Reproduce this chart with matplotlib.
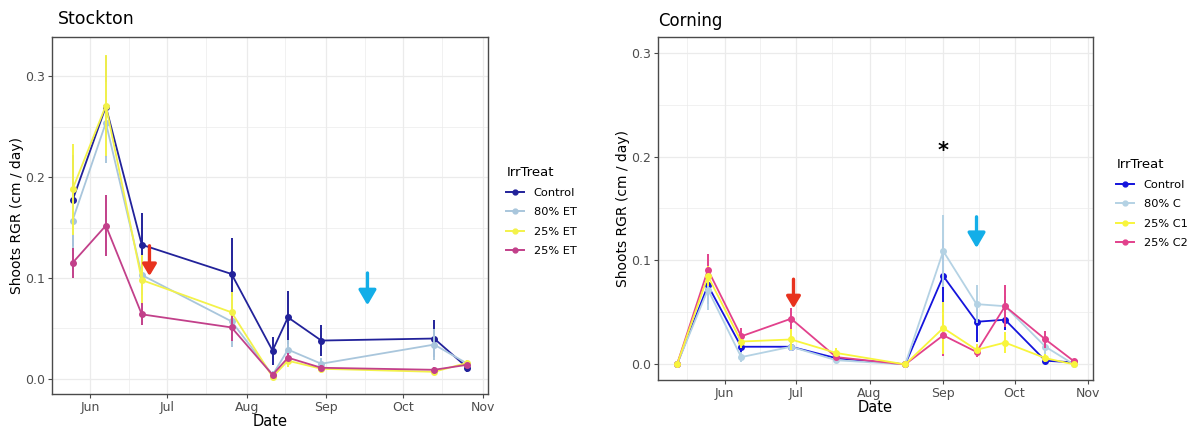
"""
Shoot RGR over the season at two sites (Stockton, Corning) by irrigation treatment.
"""

import matplotlib.pyplot as plt
import matplotlib.dates as mdates
import pandas as pd
from matplotlib.lines import Line2D

W, H = 1194, 429

# ---- Stockton -------------------------------------------------------------
stk_dates = pd.to_datetime([
    "2019-05-25", "2019-06-07", "2019-06-21", "2019-07-26", "2019-08-11",
    "2019-08-17", "2019-08-30", "2019-10-13", "2019-10-26",
])
stk_labels = ["Control", "80% ET", "25% ET", "25% ET"]
stk_control = [0.177, 0.270, 0.133, 0.104, 0.028, 0.061, 0.038, 0.040, 0.011]
stk_80 = [0.157, 0.254, 0.103, 0.057, 0.004, 0.029, 0.015, 0.034, 0.015]
stk_25a = [0.188, 0.271, 0.098, 0.066, 0.002, 0.018, 0.010, 0.007, 0.016]
stk_25b = [0.115, 0.152, 0.064, 0.051, 0.004, 0.021, 0.011, 0.009, 0.014]
stk_control_se = [0.045, 0.050, 0.031, 0.036, 0.014, 0.026, 0.015, 0.018, 0.004]
stk_80_se = [0.030, 0.040, 0.020, 0.025, 0.004, 0.010, 0.006, 0.015, 0.004]
stk_25a_se = [0.045, 0.050, 0.025, 0.020, 0.003, 0.006, 0.004, 0.003, 0.003]
stk_25b_se = [0.015, 0.030, 0.011, 0.013, 0.003, 0.005, 0.003, 0.003, 0.003]

# ---- Corning --------------------------------------------------------------
cor_dates = pd.to_datetime([
    "2019-05-12", "2019-05-25", "2019-06-08", "2019-06-29", "2019-07-18",
    "2019-08-16", "2019-09-01", "2019-09-15", "2019-09-27", "2019-10-14",
    "2019-10-26",
])
cor_labels = ["Control", "80% C", "25% C1", "25% C2"]
cor_control = [0.0, 0.076, 0.017, 0.017, 0.006, 0.0, 0.085, 0.041, 0.043, 0.0035, 0.002]
cor_80 = [0.0, 0.072, 0.007, 0.017, 0.004, 0.0, 0.109, 0.058, 0.056, 0.017, 0.0]
cor_25a = [0.0, 0.085, 0.022, 0.024, 0.011, 0.0, 0.035, 0.014, 0.021, 0.006, 0.0]
cor_25b = [0.0, 0.091, 0.027, 0.044, 0.007, 0.0, 0.028, 0.012, 0.056, 0.024, 0.003]
cor_control_se = [0.0, 0.018, 0.006, 0.004, 0.002, 0.0, 0.035, 0.019, 0.010, 0.002, 0.001]
cor_80_se = [0.0, 0.020, 0.005, 0.004, 0.002, 0.0, 0.035, 0.018, 0.010, 0.010, 0.001]
cor_25a_se = [0.0, 0.010, 0.006, 0.010, 0.005, 0.0, 0.025, 0.006, 0.010, 0.004, 0.001]
cor_25b_se = [0.0, 0.015, 0.008, 0.010, 0.003, 0.0, 0.020, 0.005, 0.020, 0.008, 0.002]

STK_COLORS = ["#22229a", "#a9c6dc", "#f3f24a", "#c2408a"]
COR_COLORS = ["#1414dc", "#b4d2e4", "#f8f53c", "#e2418c"]

GRID = "#ebebeb"
TICK_TXT = "#4d4d4d"


def px_axes(fig, x0, y0, x1, y1):
    return fig.add_axes([x0 / W, 1 - y1 / H, (x1 - x0) / W, (y1 - y0) / H])


def style_panel(ax, xlim, ylim):
    ax.set_xlim(pd.to_datetime(xlim[0]), pd.to_datetime(xlim[1]))
    ax.set_ylim(*ylim)
    ax.set_yticks([0.0, 0.1, 0.2, 0.3])
    ax.set_yticks([0.05, 0.15, 0.25], minor=True)
    ax.xaxis.set_major_locator(mdates.MonthLocator())
    ax.xaxis.set_major_formatter(mdates.DateFormatter("%b"))
    ax.xaxis.set_minor_locator(mdates.MonthLocator(bymonthday=16))
    ax.grid(which="major", color=GRID, linewidth=0.9, zorder=0)
    ax.grid(which="minor", color=GRID, linewidth=0.5, zorder=0)
    ax.set_axisbelow(True)
    for s in ax.spines.values():
        s.set_color("#4a4a4a")
        s.set_linewidth(1.0)
    ax.tick_params(which="major", length=3, color="#4a4a4a", labelsize=9,
                   labelcolor=TICK_TXT, pad=2)
    ax.tick_params(which="minor", length=0)
    ax.set_xlabel("Date", fontsize=10.5, labelpad=0)
    ax.set_ylabel("Shoots RGR (cm / day)", fontsize=10, labelpad=1)


def draw_series(ax, dates, ys, ses, colors, zorders):
    for y, se, c, z in zip(ys, ses, colors, zorders):
        ax.errorbar(dates, y, yerr=se, color=c, ecolor=c, elinewidth=1.4,
                    linewidth=1.3, marker="o", markersize=4, capsize=0,
                    zorder=z)


def add_legend(fig, labels, colors, x, y):
    handles = [Line2D([0], [0], color=c, linewidth=1.4, marker="o",
                      markersize=3.5) for c in colors]
    leg = fig.legend(handles, labels, title="IrrTreat", loc="upper left",
                     bbox_to_anchor=(x / W, 1 - y / H), frameon=False,
                     fontsize=8.2, title_fontsize=9.5, handlelength=1.6,
                     labelspacing=0.8, alignment="left", handletextpad=0.8)
    return leg


def arrow(ax, x, y_from, y_to, color, hw, hl):
    ax.annotate("", xy=(pd.to_datetime(x), y_to),
                xytext=(pd.to_datetime(x), y_from),
                arrowprops=dict(arrowstyle=f"-|>,head_width={hw},head_length={hl}",
                                color=color, linewidth=2.4, mutation_scale=14,
                                shrinkA=0, shrinkB=0),
                zorder=6)


fig = plt.figure(figsize=(W / 100, H / 100), dpi=100)

# Stockton panel
ax1 = px_axes(fig, 52, 37, 488, 394)
style_panel(ax1, ("2019-05-17", "2019-11-03"), (-0.015, 0.339))
draw_series(ax1, stk_dates,
            [stk_control, stk_80, stk_25a, stk_25b],
            [stk_control_se, stk_80_se, stk_25a_se, stk_25b_se],
            STK_COLORS, [3, 3.1, 3.2, 3.3])
arrow(ax1, "2019-06-24", 0.132, 0.102, "#e8321e", 0.3, 0.5)
arrow(ax1, "2019-09-17", 0.105, 0.073, "#13aee8", 0.38, 0.65)
fig.text(58 / W, 1 - 19 / H, "Stockton", fontsize=12.5, va="center", ha="left")
add_legend(fig, stk_labels, STK_COLORS, 496, 156)

# Corning panel
ax2 = px_axes(fig, 658, 37, 1093, 380)
style_panel(ax2, ("2019-05-04", "2019-11-03"), (-0.015, 0.315))
draw_series(ax2, cor_dates,
            [cor_control, cor_80, cor_25a, cor_25b],
            [cor_control_se, cor_80_se, cor_25a_se, cor_25b_se],
            COR_COLORS, [3, 3.1, 3.3, 3.2])
arrow(ax2, "2019-06-30", 0.082, 0.054, "#e8321e", 0.3, 0.5)
arrow(ax2, "2019-09-15", 0.142, 0.112, "#13aee8", 0.38, 0.65)
ax2.text(pd.to_datetime("2019-09-01"), 0.205, "*", fontsize=15,
         fontweight="bold", ha="center", va="center")
fig.text(658 / W, 1 - 21 / H, "Corning", fontsize=12, va="center", ha="left")
add_legend(fig, cor_labels, COR_COLORS, 1106, 148)

fig.savefig("out.png", dpi=100)
